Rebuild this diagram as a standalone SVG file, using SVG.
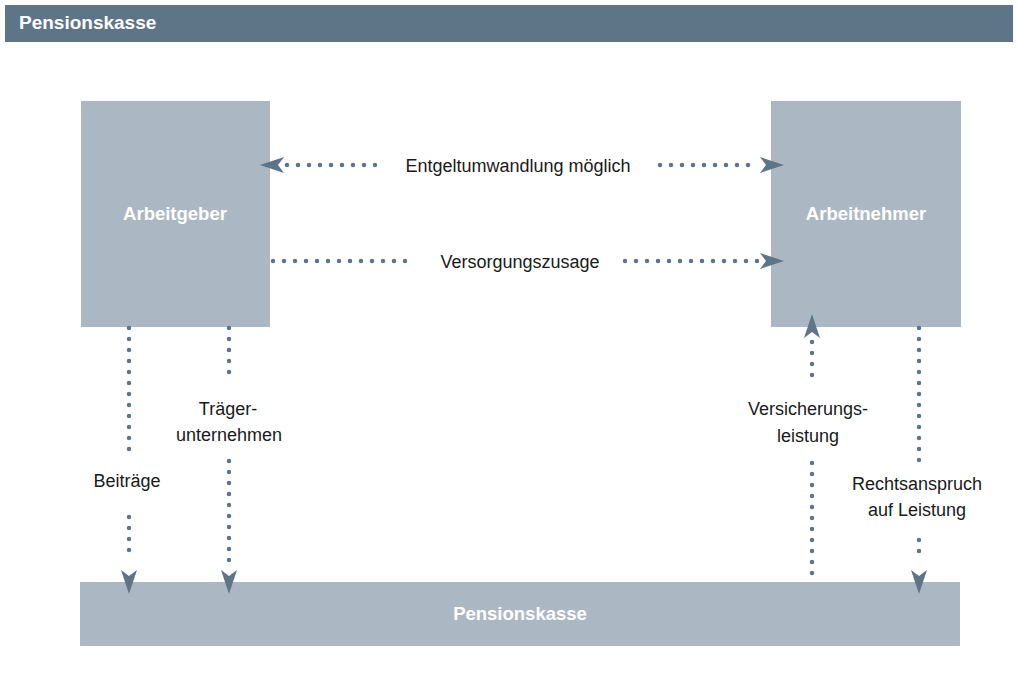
<svg xmlns="http://www.w3.org/2000/svg" width="1018" height="674" viewBox="0 0 1018 674">
<defs>
<style>
.box{fill:#abb8c4}
.lbl{font-family:"Liberation Sans",Arial,sans-serif;font-weight:bold;font-size:18.5px;fill:#fff;text-anchor:middle}
.t{font-family:"Liberation Sans",Arial,sans-serif;font-size:18px;fill:#1a1a1a;text-anchor:middle}
.dot{fill:none;stroke:#5e7487;stroke-width:4.5;stroke-linecap:round;stroke-dasharray:0 11}
.head{fill:#5e7487}
</style>
<path id="ah" d="M0,0 L-24,-8 L-18,0 L-24,8 Z"/>
</defs>
<rect x="5" y="5" width="1008" height="37" fill="#5e7487"/>
<text x="19" y="29" style="font-family:'Liberation Sans',Arial,sans-serif;font-weight:bold;font-size:19px;fill:#fff">Pensionskasse</text>

<g id="arbeitgeber"><rect class="box" x="81" y="101" width="189" height="226"/><text class="lbl" x="175" y="220">Arbeitgeber</text></g>
<g id="arbeitnehmer"><rect class="box" x="771" y="101" width="190" height="226"/><text class="lbl" x="866" y="220">Arbeitnehmer</text></g>
<g id="pensionskasse"><rect class="box" x="80" y="582" width="880" height="64"/><text class="lbl" x="520" y="620">Pensionskasse</text></g>

<g id="connectors">
<path class="dot" d="M287,165 H376"/>
<path class="dot" d="M660,165 H759"/>
<use href="#ah" class="head" transform="translate(260,165) rotate(180)"/>
<use href="#ah" class="head" transform="translate(784,165)"/>
<text class="t" x="518" y="172">Entgeltumwandlung möglich</text>

<path class="dot" d="M273,261 H416"/>
<path class="dot" d="M625,261 H758"/>
<use href="#ah" class="head" transform="translate(784,261)"/>
<text class="t" x="520" y="268">Versorgungszusage</text>

<path class="dot" d="M129,328 V450"/>
<path class="dot" d="M129,517 V561"/>
<use href="#ah" class="head" transform="translate(129,594) rotate(90)"/>
<text class="t" x="127" y="487">Beiträge</text>

<path class="dot" d="M229,328 V383"/>
<path class="dot" d="M229,461 V561"/>
<use href="#ah" class="head" transform="translate(229,594) rotate(90)"/>
<text class="t" x="228" y="415">Träger-</text>
<text class="t" x="229" y="441">unternehmen</text>

<path class="dot" d="M812,342 V386"/>
<path class="dot" d="M812,463 V579"/>
<use href="#ah" class="head" transform="translate(812,314) rotate(-90)"/>
<text class="t" x="808" y="415">Versicherungs-</text>
<text class="t" x="808" y="442">leistung</text>

<path class="dot" d="M919,328 V462"/>
<path class="dot" d="M919,540 V562"/>
<use href="#ah" class="head" transform="translate(919,594) rotate(90)"/>
<text class="t" x="917" y="490">Rechtsanspruch</text>
<text class="t" x="917" y="516">auf Leistung</text>
</g>
</svg>
